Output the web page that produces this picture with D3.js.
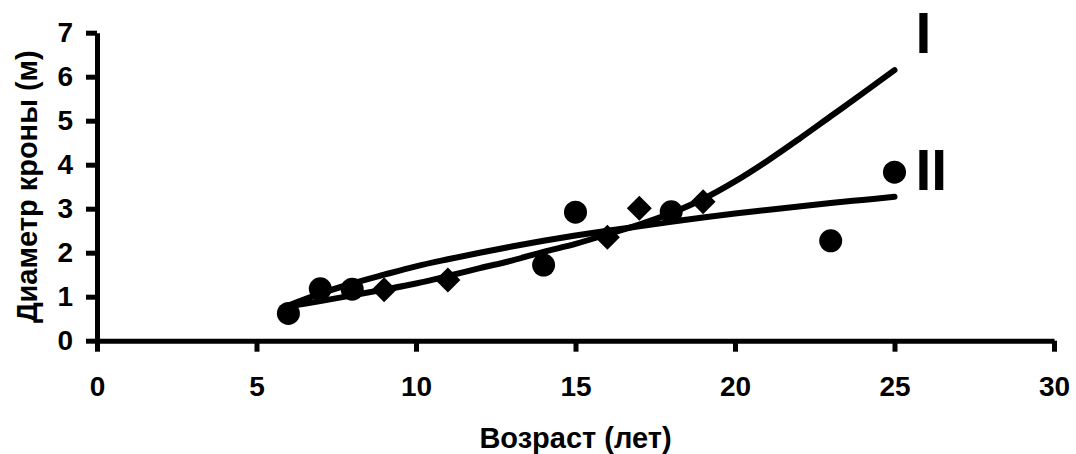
<!DOCTYPE html>
<html>
<head>
<meta charset="utf-8">
<script src="https://cdn.jsdelivr.net/npm/d3@7"></script>
<style>
  html, body { margin: 0; padding: 0; background: #fff; }
  svg { display: block; font-family: Arial, "Liberation Sans", sans-serif; font-weight: bold; }
  .axis text { font-size: 28px; fill: #000; font-weight: bold; }
</style>
</head>
<body>
<div id="chart"></div>
<script>
// Диаметр кроны по возрасту, две группы + линии тренда
const xTicks = [0, 5, 10, 15, 20, 25, 30];
const yTicks = [0, 1, 2, 3, 4, 5, 6, 7];

// circles
const circleAge = [6, 7, 8, 14, 15, 18, 23, 25];
const circleDiam = [0.62, 1.18, 1.17, 1.72, 2.92, 2.93, 2.27, 3.83];

// diamonds
const diamondAge = [9, 11, 16, 17, 19];
const diamondDiam = [1.16, 1.38, 2.35, 3.01, 3.16];

// trend lines
const trendAge = [6, 7, 8, 9, 10, 11, 12, 13, 14, 15, 16, 17, 18, 19, 20, 21, 22, 23, 24, 25];
const trendI = [0.78, 0.9, 1.03, 1.16, 1.3, 1.47, 1.65, 1.82, 2.02, 2.2, 2.42, 2.64, 2.9, 3.22, 3.62, 4.08, 4.58, 5.1, 5.62, 6.15];
const trendII = [0.8, 1.07, 1.3, 1.5, 1.69, 1.85, 2.0, 2.14, 2.27, 2.39, 2.5, 2.6, 2.7, 2.8, 2.89, 2.97, 3.05, 3.13, 3.2, 3.27];

const curveLabels = [
  { text: "I", age: 25, value: 6.15 },
  { text: "II", age: 25, value: 3.27 }
];

(function () {
  const W = 1076, H = 454;
  const margin = { top: 32.7, right: 22, bottom: 113.3, left: 97 };

  const svg = d3.select("#chart").append("svg")
    .attr("width", W).attr("height", H);
  svg.append("rect").attr("width", W).attr("height", H).attr("fill", "#fff");

  const x = d3.scaleLinear().domain([0, 30]).range([margin.left, W - margin.right]);
  const y = d3.scaleLinear().domain([0, 7]).range([H - margin.bottom, margin.top]);

  const styleAxis = g => {
    g.selectAll("path, line").attr("stroke", "#000").attr("stroke-width", 5);
    g.selectAll("text").attr("fill", "#000");
  };

  // axes
  svg.append("g").attr("class", "axis")
    .attr("transform", `translate(0,${y(0)})`)
    .call(d3.axisBottom(x).tickValues(xTicks).tickFormat(d3.format("d"))
      .tickSize(11).tickSizeOuter(0).tickPadding(24))
    .call(g => g.selectAll("text").attr("dy", "0.72em"))
    .call(styleAxis);

  svg.append("g").attr("class", "axis")
    .attr("transform", `translate(${x(0)},0)`)
    .call(d3.axisLeft(y).tickValues(yTicks).tickFormat(d3.format("d"))
      .tickSize(11).tickSizeOuter(0).tickPadding(13))
    .call(styleAxis);

  // trend lines
  const line = d3.line()
    .x(d => x(d[0])).y(d => y(d[1]))
    .curve(d3.curveCatmullRom);

  [trendI, trendII].forEach(vals => {
    svg.append("path")
      .datum(trendAge.map((a, i) => [a, vals[i]]))
      .attr("d", line)
      .attr("fill", "none")
      .attr("stroke", "#000")
      .attr("stroke-width", 6)
      .attr("stroke-linecap", "round")
      .attr("stroke-linejoin", "round");
  });

  // markers
  svg.append("g").selectAll("circle")
    .data(circleAge.map((a, i) => [a, circleDiam[i]]))
    .join("circle")
    .attr("cx", d => x(d[0])).attr("cy", d => y(d[1]))
    .attr("r", 11.5).attr("fill", "#000");

  const diamond = d3.symbol().type(d3.symbolSquare).size(312);
  svg.append("g").selectAll("path")
    .data(diamondAge.map((a, i) => [a, diamondDiam[i]]))
    .join("path")
    .attr("d", diamond)
    .attr("transform", d => `translate(${x(d[0])},${y(d[1])}) rotate(45)`)
    .attr("fill", "#000");

  // curve labels
  svg.selectAll(".curve-label").data(curveLabels).join("text")
    .attr("class", "curve-label")
    .attr("x", d => x(d.age) + 21)
    .attr("y", d => d.text === "I" ? 53 : 190)
    .attr("font-size", "57px")
    .attr("font-weight", "bold")
    .text(d => d.text);

  // axis titles
  svg.append("text")
    .attr("x", (x(0) + x(30)) / 2).attr("y", 448)
    .attr("text-anchor", "middle").attr("font-size", "29px")
    .text("Возраст (лет)");

  svg.append("text")
    .attr("transform", `translate(37,${(y(0) + y(7)) / 2}) rotate(-90)`)
    .attr("text-anchor", "middle").attr("font-size", "29px")
    .text("Диаметр кроны (м)");
})();
</script>
</body>
</html>
